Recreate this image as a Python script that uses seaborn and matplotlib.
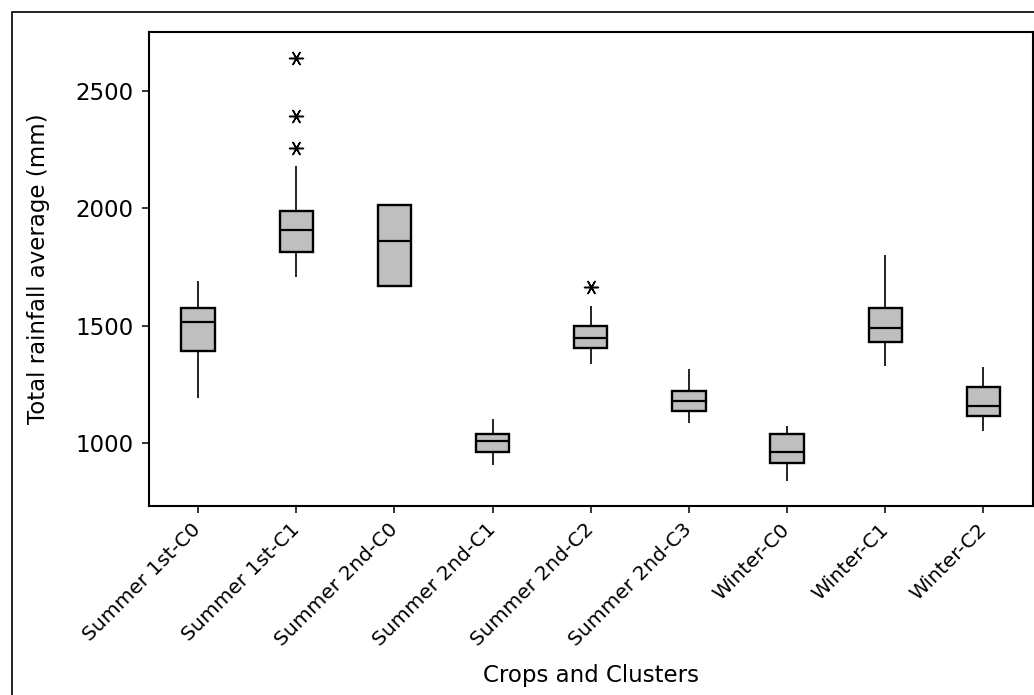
import numpy as np
import pandas as pd
import matplotlib
matplotlib.use("Agg")
import matplotlib.pyplot as plt
from matplotlib.patches import Rectangle
import seaborn as sns

# ---- data ----
categories = ["Summer 1st-C0", "Summer 1st-C1", "Summer 2nd-C0", "Summer 2nd-C1",
              "Summer 2nd-C2", "Summer 2nd-C3", "Winter-C0", "Winter-C1", "Winter-C2"]
whisker_low = [1191, 1706, 1670, 905, 1336, 1083, 837, 1329, 1051]
q1          = [1392, 1815, 1670, 962, 1405, 1135, 915, 1430, 1115]
median      = [1515, 1906, 1862, 1007, 1445, 1178, 962, 1491, 1155]
q3          = [1576, 1990, 2014, 1038, 1498, 1222, 1038, 1576, 1239]
whisker_high= [1691, 2183, 2014, 1100, 1583, 1316, 1071, 1799, 1323]

outlier_cats   = ["Summer 1st-C1", "Summer 1st-C1", "Summer 1st-C1", "Summer 2nd-C2"]
outlier_values = [2256, 2395, 2642, 1666]

y_ticks = [1000, 1500, 2000, 2500]

# long-form table of five-number summaries
rows = []
for c, a, b, m, d, e in zip(categories, whisker_low, q1, median, q3, whisker_high):
    for v in (a, b, m, d, e):
        rows.append({"group": c, "value": v})
df = pd.DataFrame(rows)
out_df = pd.DataFrame({"group": outlier_cats, "value": outlier_values})

sns.set_theme(style="ticks")
plt.rcParams["font.family"] = ["DejaVu Sans"]
plt.rcParams["text.color"] = "black"
plt.rcParams["axes.labelcolor"] = "black"
plt.rcParams["xtick.color"] = "black"
plt.rcParams["ytick.color"] = "black"

W, H = 1034, 695
fig = plt.figure(figsize=(W / 100, H / 100), dpi=100)
ax = fig.add_axes([149 / W, 1 - 505.7 / H, (1032.5 - 149) / W, (505.7 - 32) / H])

sns.boxplot(data=df, x="group", y="value", order=categories, ax=ax,
            whis=(0, 100), width=0.34, showcaps=False, fliersize=0,
            color="#bfbfbf", linecolor="black", saturation=1, linewidth=1.7,
            boxprops=dict(linewidth=1.7, edgecolor="black", facecolor="#bfbfbf"),
            whiskerprops=dict(linewidth=1.2, color="black"),
            medianprops=dict(linewidth=1.6, color="black"))

sns.stripplot(data=out_df, x="group", y="value", order=categories, ax=ax,
              jitter=False, marker=(6, 2, 30), size=10, color="black",
              edgecolor="black", linewidth=1.1)

ax.set_ylim(731, 2753)
ax.set_xlim(-0.5, 8.5)
ax.set_yticks(y_ticks)
ax.set_yticklabels([str(t) for t in y_ticks], fontsize=16.5, color="black")
ax.set_xticks(range(len(categories)))
ax.set_xticklabels(categories, rotation=45, ha="right", va="center",
                   rotation_mode="anchor", fontsize=14.5, color="black")

for s in ax.spines.values():
    s.set_visible(True)
    s.set_linewidth(1.5)
    s.set_color("black")
ax.tick_params(axis="both", direction="out", length=5, width=1.1, color="black",
               labelcolor="black")
ax.tick_params(axis="y", pad=6)
ax.tick_params(axis="x", pad=10)

ax.set_xlabel("Crops and Clusters", fontsize=16.5, color="black")
ax.set_ylabel("Total rainfall average (mm)", fontsize=16.5, color="black")
ax.xaxis.set_label_coords(0.5, -0.335)
ax.yaxis.set_label_coords(-0.112, 0.5)

# outer frame of the graph window (left and top edges visible)
fig.add_artist(Rectangle((12 / W, -0.2), 2.0, 1 - 12 / H + 0.2,
                         transform=fig.transFigure, fill=False,
                         edgecolor="black", linewidth=1.2))

fig.savefig("out.png", dpi=100)
